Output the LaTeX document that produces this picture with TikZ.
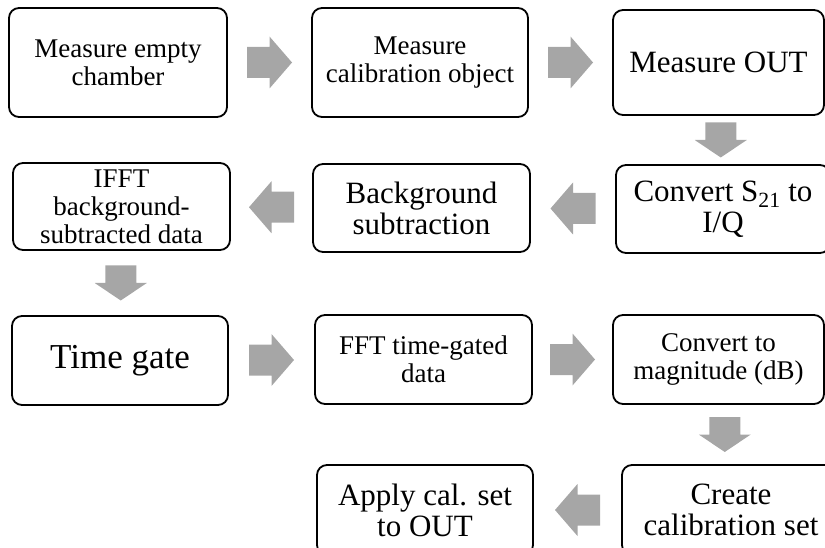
\documentclass[tikz,border=0pt]{standalone}
\usepackage{fontspec}
\setmainfont{Liberation Serif}
\usetikzlibrary{calc}
\definecolor{arrowgray}{HTML}{A6A6A6}
\tikzset{
  box/.style={draw=black, line width=1.8pt, rounded corners=10pt, fill=white,
    align=center, inner sep=0pt},
  fsmall/.style={font=\fontsize{27}{28}\selectfont},
  fmid/.style={font=\fontsize{31}{31}\selectfont},
  fbig/.style={font=\fontsize{35}{36}\selectfont},
  pics/harrow/.style={code={
    \fill[arrowgray] (-22.5,-15.5) -- (0,-15.5) -- (0,-26) -- (22.5,0)
      -- (0,26) -- (0,15.5) -- (-22.5,15.5) -- cycle;}},
  pics/varrow/.style={code={
    \fill[arrowgray] (-17.5,-15.5) -- (0,-15.5) -- (0,-26) -- (17.5,0)
      -- (0,26) -- (0,15.5) -- (-17.5,15.5) -- cycle;}},
}
\begin{document}
\begin{tikzpicture}[x=1pt,y=-1pt]
\useasboundingbox (0,0) rectangle (825,548);
\clip (0,0) rectangle (825,548);
% row 1
\node[box,fsmall,minimum width=218pt,minimum height=109pt] (b1) at (118,62.5) {Measure empty\\chamber};
\node[box,fsmall,minimum width=216pt,minimum height=109pt] (b2) at (420,62.5) {Measure\\calibration object};
\node[box,fmid,minimum width=211pt,minimum height=105pt] (b3) at (718.5,62.5) {Measure OUT};
% row 2
\node[box,fmid,minimum width=214pt,minimum height=88pt] (b4) at (723,209) {Convert S\textsubscript{21} to\\I/Q};
\node[box,fmid,minimum width=217pt,minimum height=88pt] (b5) at (421.5,208) {Background\\subtraction};
\node[box,fsmall,minimum width=217pt,minimum height=87pt] (b6) at (121.5,206.5) {IFFT\\background-\\subtracted data};
% row 3
\node[box,fbig,minimum width=216pt,minimum height=89pt] (b7) at (120,360.5) {Time gate};
\node[box,fsmall,minimum width=217pt,minimum height=89pt] (b8) at (423.5,359.5) {FFT time-gated\\data};
\node[box,fsmall,minimum width=211pt,minimum height=89pt] (b9) at (718.5,359.5) {Convert to\\magnitude (dB)};
% row 4
\node[box,fmid,minimum width=218pt,minimum height=90pt] (b10) at (731,510) {Create\\calibration set};
\node[box,fmid,minimum width=216pt,minimum height=90pt] (b11) at (425,510) {Apply cal. set\\to OUT};
% block arrows
\pic at ($(b1.east)!0.5!(b2.west)$) {harrow};
\pic at ($(b2.east)!0.5!(b3.west)$) {harrow};
\pic[rotate=-90] at ($(b3.south)!0.5!(b4.north)$) {varrow};
\pic[rotate=180] at ($(b4.west)!0.5!(b5.east)$) {harrow};
\pic[rotate=180] at ($(b5.west)!0.5!(b6.east)$) {harrow};
\pic[rotate=-90] at ($(b6.south)!0.5!(b7.north)$) {varrow};
\pic at ($(b7.east)!0.5!(b8.west)$) {harrow};
\pic at ($(b8.east)!0.5!(b9.west)$) {harrow};
\pic[rotate=-90] at ($(b9.south)!0.5!(b10.north)$) {varrow};
\pic[rotate=180] at ($(b10.west)!0.5!(b11.east)$) {harrow};
\end{tikzpicture}
\end{document}
